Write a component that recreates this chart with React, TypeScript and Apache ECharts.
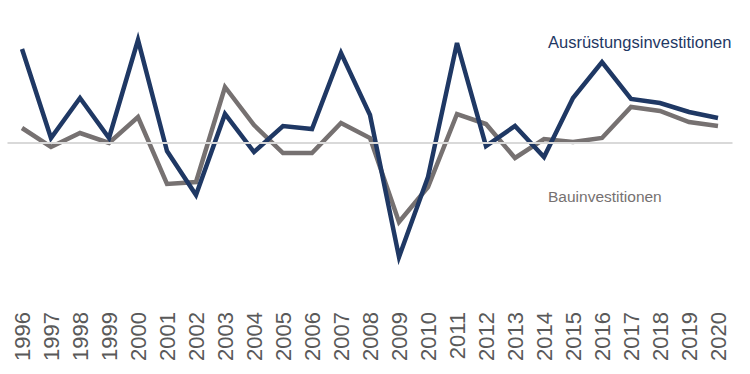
import React, { useEffect, useRef } from "react";
import * as echarts from "echarts";

const years = [
  "1996", "1997", "1998", "1999", "2000", "2001", "2002", "2003", "2004", "2005",
  "2006", "2007", "2008", "2009", "2010", "2011", "2012", "2013", "2014", "2015",
  "2016", "2017", "2018", "2019", "2020",
];

const ausruestung = [
  18.8, 1.0, 9.0, 1.0, 20.6, -1.6, -10.4, 5.8, -1.8, 3.4,
  2.8, 18.0, 5.6, -22.8, -6.8, 20.0, -0.6, 3.4, -2.8, 9.0,
  16.2, 8.8, 8.0, 6.2, 5.0,
];

const bau = [
  3.0, -0.8, 2.0, 0.0, 5.2, -8.2, -7.8, 11.2, 3.6, -2.0,
  -2.0, 4.0, 1.0, -15.8, -8.8, 5.8, 3.8, -3.0, 0.8, 0.2,
  1.0, 7.2, 6.4, 4.2, 3.4,
];

const seriesNames = ["Ausrüstungsinvestitionen", "Bauinvestitionen"];

const DARK = "#1f3864";
const GREY = "#767171";
const FONT = "'Liberation Sans', Arial, sans-serif";

export default function App() {
  const ref = useRef<HTMLDivElement>(null);

  useEffect(() => {
    if (!ref.current) return;
    const chart = echarts.init(ref.current, undefined, { renderer: "svg" });
    chart.setOption({
      animation: false,
      grid: { left: 7.5, right: 17.5, top: 18, bottom: 81, containLabel: false },
      xAxis: {
        type: "category",
        data: years,
        boundaryGap: true,
        position: "bottom",
        axisLine: { show: false, onZero: false },
        axisTick: { show: false },
        axisLabel: {
          rotate: 90,
          margin: 19,
          interval: 0,
          color: "#595959",
          fontSize: 22,
          fontFamily: FONT,
        },
      },
      yAxis: {
        type: "value",
        min: -30,
        max: 25,
        show: false,
        splitLine: { show: false },
      },
      series: [
        {
          type: "line",
          data: [],
          z: 1,
          silent: true,
          markLine: {
            silent: true,
            symbol: "none",
            label: { show: false },
            lineStyle: { color: "#d9d9d9", width: 2, type: "solid" },
            data: [{ yAxis: 0 }],
          },
        },
        {
          name: seriesNames[1],
          type: "line",
          data: bau,
          z: 2,
          symbol: "none",
          lineStyle: { color: GREY, width: 4.5, join: "miter" },
          itemStyle: { color: GREY },
        },
        {
          name: seriesNames[0],
          type: "line",
          data: ausruestung,
          z: 3,
          symbol: "none",
          lineStyle: { color: DARK, width: 4.5, join: "miter" },
          itemStyle: { color: DARK },
        },
      ],
      graphic: [
        {
          type: "text",
          left: 548,
          top: 33,
          style: {
            text: seriesNames[0],
            fill: DARK,
            fontSize: 16.5,
            fontFamily: FONT,
          },
        },
        {
          type: "text",
          left: 548,
          top: 188,
          style: {
            text: seriesNames[1],
            fill: GREY,
            fontSize: 15.5,
            fontFamily: FONT,
          },
        },
      ],
    });
    return () => chart.dispose();
  }, []);

  return (
    <div
      ref={ref}
      style={{ position: "fixed", left: 0, top: 0, width: 750, height: 374, background: "#fff" }}
    />
  );
}
